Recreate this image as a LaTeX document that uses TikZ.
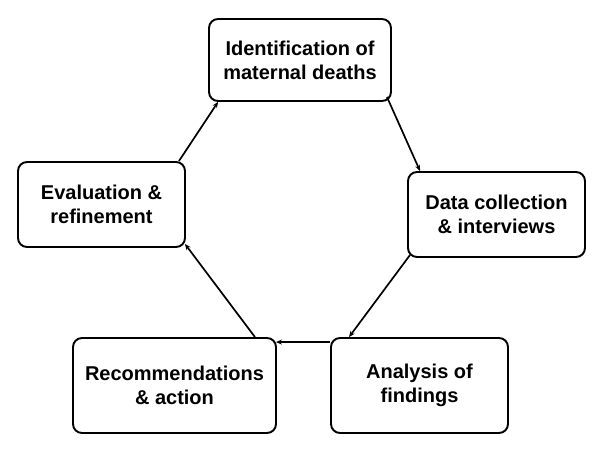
\documentclass[tikz,border=0pt]{standalone}
\usepackage{fontspec}
\setmainfont{Liberation Sans}
\usetikzlibrary{arrows.meta}
\tikzset{
  stagebox/.style={draw, line width=1.9pt, rounded corners=9pt, align=center, inner sep=0pt,
    font=\fontsize{20}{24}\selectfont\bfseries},
  arr/.style={line width=1.7pt, -{Stealth[length=6pt,width=5pt]}}
}
\begin{document}
\begin{tikzpicture}[x=1pt,y=1pt]
\useasboundingbox (0,0) rectangle (600,-457);
\node[stagebox, minimum width=182pt, minimum height=82pt] (top) at (300,-60) {Identification of\\maternal deaths};
\node[stagebox, minimum width=177pt, minimum height=85pt] (data) at (496.5,-214.5) {Data collection\\\& interviews};
\node[stagebox, minimum width=177pt, minimum height=95pt] (ana) at (419.5,-385.5) {Analysis of\\findings};
\node[stagebox, minimum width=203pt, minimum height=95pt] (rec) at (174.5,-385.5) {Recommendations\\\& action};
\node[stagebox, minimum width=167pt, minimum height=85pt] (eval) at (101.5,-204.5) {Evaluation \&\\refinement};
\draw[arr] ([xshift=-7pt]eval.north east) -- ([xshift=10pt]top.south west);
\draw[arr] ([shift={(-5pt,5pt)}]top.south east) -- ([xshift=13pt]data.north west);
\draw[arr] ([shift={(3pt,3pt)}]data.south west) -- ([xshift=19pt]ana.north west);
\draw[arr] ([yshift=-5pt]ana.north west) -- ([shift={(-1pt,-5pt)}]rec.north east);
\draw[arr] ([xshift=-22pt]rec.north east) -- ([shift={(-1pt,4pt)}]eval.south east);
\end{tikzpicture}
\end{document}
